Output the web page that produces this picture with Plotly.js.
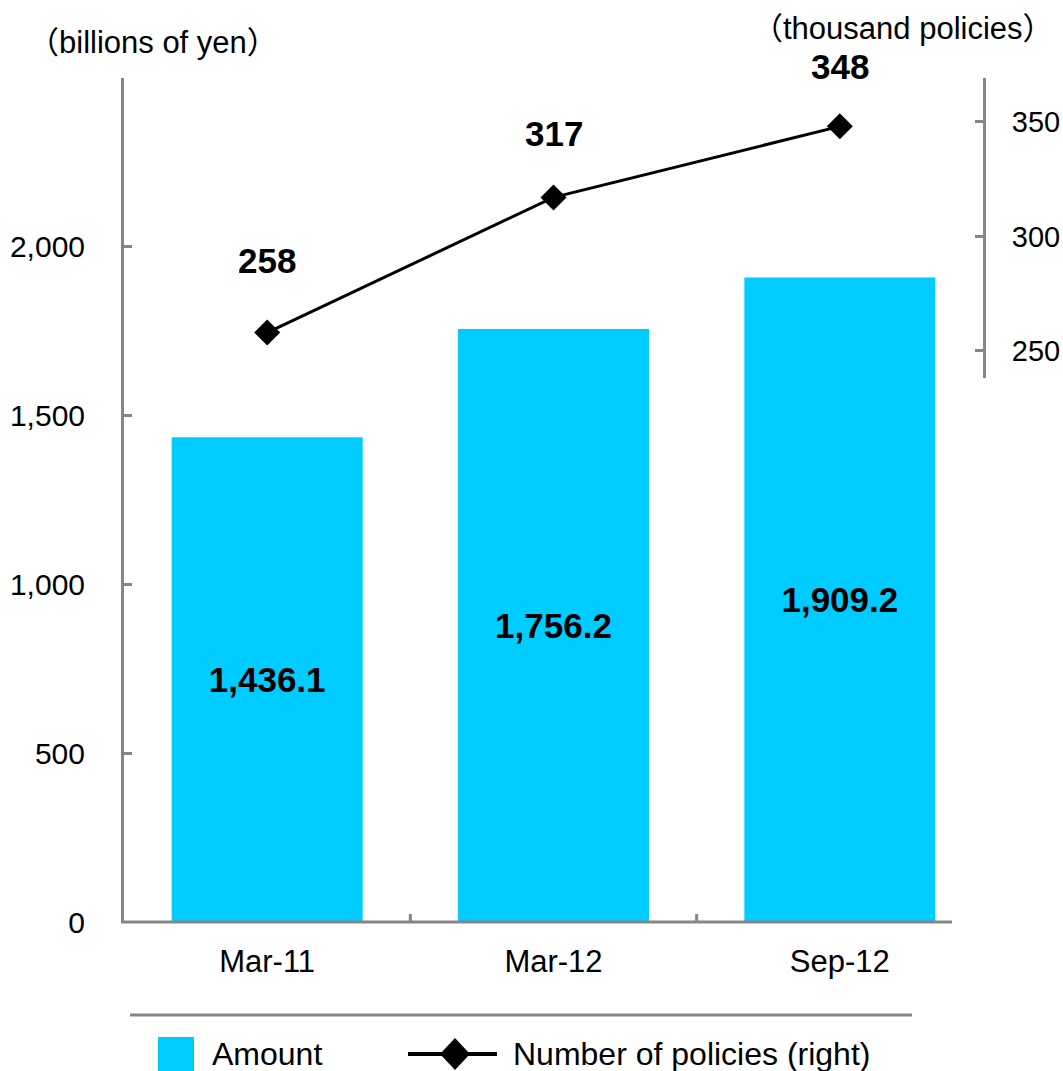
<!DOCTYPE html>
<html>
<head>
<meta charset="utf-8">
<script src="https://cdn.plot.ly/plotly-3.0.1.min.js"></script>
<style>html,body{margin:0;padding:0;background:#fff;}#chart{width:1063px;height:1071px;}</style>
</head>
<body>
<div id="chart"></div>
<script>
// ---- data ----
const categories = ['Mar-11', 'Mar-12', 'Sep-12'];
const amounts = [1436.1, 1756.2, 1909.2];            // billions of yen (left axis)
const policies = [258, 317, 348];                    // thousand policies (right axis)
const leftTickVals = [0, 500, 1000, 1500, 2000, 2500];
const leftTickText = ['0', '500', '1,000', '1,500', '2,000', ''];
const rightTickVals = [250, 300, 350];
const rightTickText = ['250', '300', '350'];
const leftTitle = '（billions of yen）';
const rightTitle = '（thousand policies）';
const barName = 'Amount';
const lineName = 'Number of policies (right)';

// ---- style / layout ----
const FONT = 'Liberation Sans, Arial, "Noto Sans CJK JP", sans-serif';
const GRAY = '#868686';
const CYAN = '#00CCFF';
const W = 1063, H = 1071;
const M = {l: 124, r: 80, t: 78, b: 149};
const PW = W - M.l - M.r, PH = H - M.t - M.b;
const px = x => (x - M.l) / PW;            // pixel -> paper x
const py = y => (H - M.b - y) / PH;        // pixel -> paper y
const labelShift = [72, 64, 60];

const barTrace = {
  type: 'bar', x: categories, y: amounts, name: barName,
  marker: {color: CYAN},
  texttemplate: '%{y:,.1f}', textposition: 'inside', insidetextanchor: 'middle',
  textangle: 0, constraintext: 'none',
  textfont: {family: FONT, size: 35, color: '#000', weight: 700},
  hoverinfo: 'skip'
};
const lineTrace = {
  type: 'scatter', mode: 'lines+markers', x: categories, y: policies, yaxis: 'y2',
  name: lineName, line: {color: '#000', width: 3},
  marker: {symbol: 'diamond', size: 20, color: '#000'},
  cliponaxis: false, hoverinfo: 'skip'
};

const shapes = [];
// x axis line (ends short of the right axis, as in the reference)
shapes.push({type: 'line', xref: 'paper', yref: 'paper', x0: px(121), x1: px(952), y0: 0, y1: 0,
  line: {color: GRAY, width: 3}});
// category boundary ticks
for (let i = 0; i < categories.length - 1; i++) {
  shapes.push({type: 'line', xref: 'x', yref: 'paper', x0: i + 0.5, x1: i + 0.5, y0: 0, y1: 8 / PH,
    line: {color: GRAY, width: 3}});
}
// legend separator
shapes.push({type: 'line', xref: 'paper', yref: 'paper', x0: px(130), x1: px(912), y0: py(1015), y1: py(1015),
  line: {color: GRAY, width: 3}});
// legend: bar swatch
shapes.push({type: 'rect', xref: 'paper', yref: 'paper', x0: px(158), x1: px(194), y0: py(1037), y1: py(1075),
  fillcolor: CYAN, line: {width: 0}});
// legend: line + diamond
shapes.push({type: 'line', xref: 'paper', yref: 'paper', x0: px(408), x1: px(497), y0: py(1054), y1: py(1054),
  line: {color: '#000', width: 4}});
const dc = [455, 1054], dw = 15, dh = 16;
shapes.push({type: 'path', xref: 'paper', yref: 'paper',
  path: `M ${px(dc[0]-dw)},${py(dc[1])} L ${px(dc[0])},${py(dc[1]-dh)} L ${px(dc[0]+dw)},${py(dc[1])} L ${px(dc[0])},${py(dc[1]+dh)} Z`,
  fillcolor: '#000', line: {width: 0}});

const annotations = [
  {xref: 'paper', yref: 'paper', x: px(153), y: py(43), text: leftTitle, showarrow: false,
    xanchor: 'center', yanchor: 'middle', font: {family: FONT, size: 31, color: '#000'}},
  {xref: 'paper', yref: 'paper', x: px(903), y: py(28), text: rightTitle, showarrow: false,
    xanchor: 'center', yanchor: 'middle', font: {family: FONT, size: 31, color: '#000'}},
  {xref: 'paper', yref: 'paper', x: px(210), y: py(1054), text: barName, showarrow: false,
    xanchor: 'left', yanchor: 'middle', font: {family: FONT, size: 32, color: '#000'}},
  {xref: 'paper', yref: 'paper', x: px(511), y: py(1054), text: lineName, showarrow: false,
    xanchor: 'left', yanchor: 'middle', font: {family: FONT, size: 32, color: '#000'}}
];
policies.forEach((v, i) => {
  annotations.push({xref: 'x', yref: 'y2', x: categories[i], y: v, text: String(v), showarrow: false,
    yshift: labelShift[i], xanchor: 'center', yanchor: 'middle',
    font: {family: FONT, size: 35, color: '#000', weight: 700}});
});

const layout = {
  width: W, height: H, margin: M, showlegend: false, hovermode: false,
  paper_bgcolor: '#fff', plot_bgcolor: 'rgba(0,0,0,0)', bargap: 0.333,
  font: {family: FONT, color: '#000'},
  xaxis: {type: 'category', range: [-0.5, categories.length - 0.5], showline: false, ticks: '',
    showgrid: false, zeroline: false, tickfont: {family: FONT, size: 31, color: '#000'},
    ticklabelstandoff: 18, fixedrange: true},
  yaxis: {range: [0, 2500], tickvals: leftTickVals, ticktext: leftTickText, ticks: 'inside',
    ticklen: 8, tickwidth: 3, tickcolor: GRAY, showline: true, linewidth: 3, linecolor: GRAY,
    showgrid: false, zeroline: false, tickfont: {family: FONT, size: 30, color: '#000'},
    ticklabelstandoff: 30, fixedrange: true},
  yaxis2: {domain: [py(378), 1], anchor: 'x', side: 'right', range: [238.2, 369.1],
    tickvals: rightTickVals, ticktext: rightTickText, ticks: 'inside', ticklen: 8, tickwidth: 3,
    tickcolor: GRAY, showline: true, linewidth: 3, linecolor: GRAY, showgrid: false, zeroline: false,
    tickfont: {family: FONT, size: 29, color: '#000'}, ticklabelstandoff: 20, fixedrange: true},
  shapes: shapes, annotations: annotations
};

Plotly.newPlot('chart', [barTrace, lineTrace], layout, {displayModeBar: false, staticPlot: true});
</script>
</body>
</html>
